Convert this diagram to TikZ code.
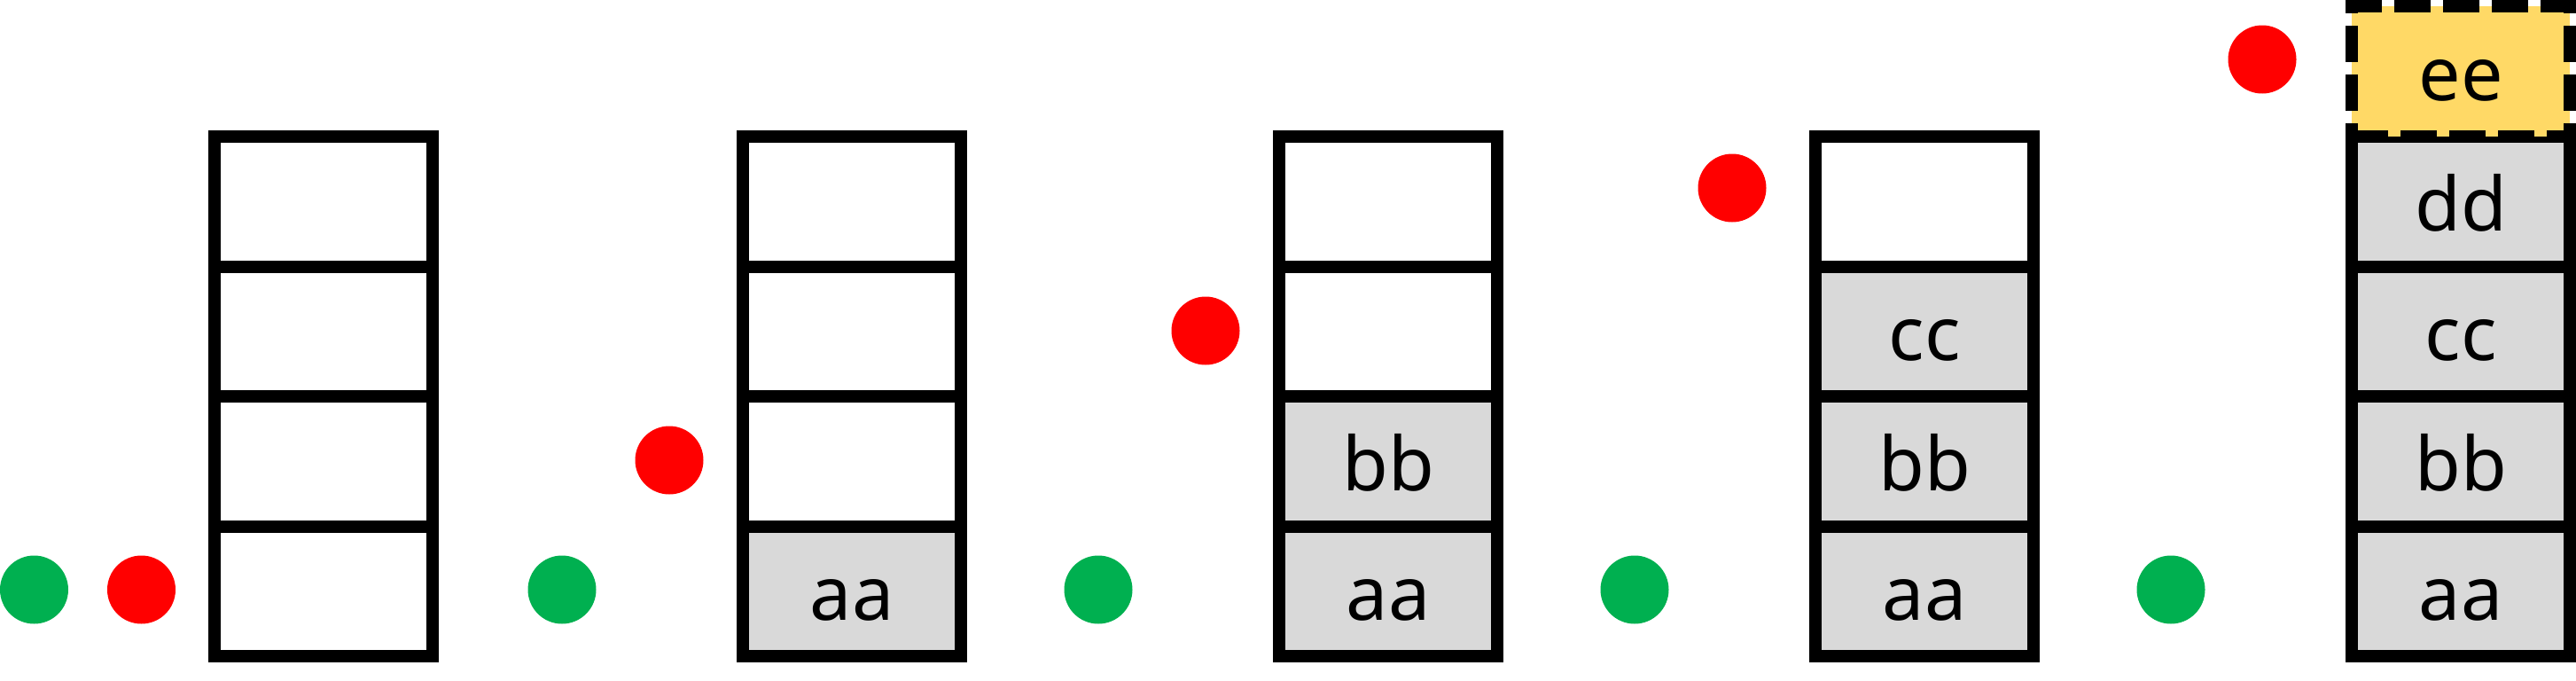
\documentclass[tikz,border=0pt]{standalone}
\usepackage{fontspec}
\setmainfont{Noto Sans}
\usepackage{xcolor}
\usepackage{tikz}

\definecolor{cellgray}{HTML}{D9D9D9}
\definecolor{pushgreen}{HTML}{00B050}
\definecolor{popred}{HTML}{FF0000}
\definecolor{newyellow}{HTML}{FFD966}

\tikzset{
  cell/.style={draw, line width=0.14cm, rectangle, inner sep=0pt, outer sep=0pt,
    minimum width=2.46cm, minimum height=1.465cm,
    text height=0.66cm, text depth=0cm, font=\fontsize{24}{28}\selectfont},
  dot/.style={circle, inner sep=0pt, minimum size=0.77cm}
}

\begin{document}
\begin{tikzpicture}
  \useasboundingbox (0,0) rectangle (29.06,7.67);

	% the five stacks, filled from the bottom
	\foreach \st/\x in {1/3.65, 2/9.61, 3/15.66, 4/21.71, 5/27.76}{
		\foreach \k/\t in {1/aa, 2/bb, 3/cc, 4/dd}{
			\ifnum\k<\st
				\node[cell, fill=cellgray] (s\st-\k) at (\x, {1.0025+1.465*(\k-1)}) {\t};
			\else
				\node[cell] (s\st-\k) at (\x, {1.0025+1.465*(\k-1)}) {};
			\fi
		};
	};

\node[cell, fill=newyellow, dash pattern=on 0.41cm off 0.14cm] (s5-5) at (27.76, 6.8625) {ee};

	\foreach \i/\x in {1/0.385, 2/6.34, 3/12.39, 4/18.44, 5/24.49}{
		\node[dot, fill=pushgreen] (g\i) at (\x, 1.02) {};
	};
	\foreach \i/\x/\y in {1/1.595/1.02, 2/7.55/2.48, 3/13.60/3.94, 4/19.54/5.55, 5/25.52/7.00}{
		\node[dot, fill=popred] (r\i) at (\x, \y) {};
	};

\end{tikzpicture}
\end{document}
